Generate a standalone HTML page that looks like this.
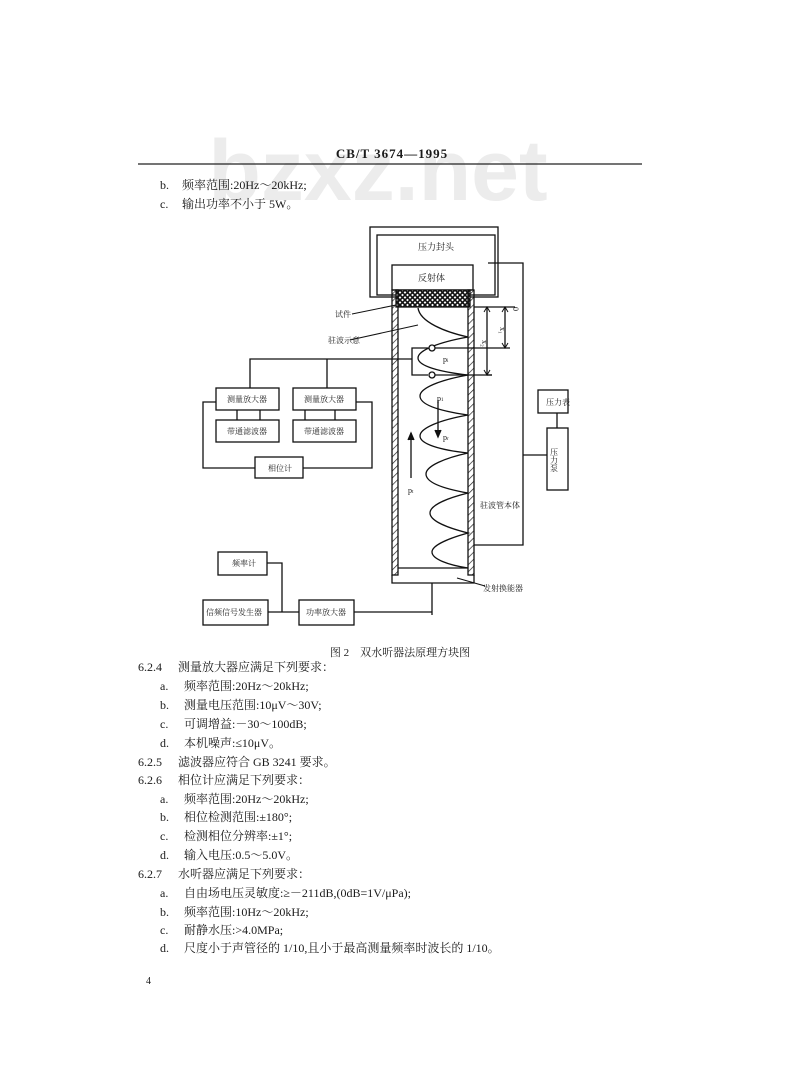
<!DOCTYPE html>
<html><head><meta charset="utf-8"><style>
html,body{margin:0;padding:0;background:#fff;}
svg{display:block}
text{font-family:"Liberation Serif","Noto Serif CJK SC","Noto Sans CJK SC",serif;fill:#1a1a1a;}
.t{font-size:12px}
.s{font-size:8px}
</style></head><body>
<svg width="800" height="1090" viewBox="0 0 800 1090" xmlns="http://www.w3.org/2000/svg">
<defs>
<pattern id="h" width="5" height="5" patternUnits="userSpaceOnUse" patternTransform="rotate(45)">
<line x1="0" y1="0" x2="0" y2="5" stroke="#222" stroke-width="1.4"/></pattern>
<pattern id="x" width="5" height="5" patternUnits="userSpaceOnUse">
<rect width="5" height="5" fill="#fff"/><path d="M0 0L5 5M5 0L0 5" stroke="#111" stroke-width="1.6"/></pattern>
</defs>
<!-- watermark -->
<text x="378" y="200" text-anchor="middle" style="font-family:'Liberation Sans',sans-serif;font-weight:bold;font-size:86px;fill:#ececec">bzxz.net</text>
<text x="392" y="158" text-anchor="middle" style="font-size:13px;font-weight:bold;letter-spacing:1px">CB/T 3674—1995</text>
<line x1="138" y1="164" x2="642" y2="164" stroke="#222" stroke-width="1.3"/>
<text class="t" x="160" y="189">b.</text><text class="t" x="182" y="189">频率范围:20Hz～20kHz;</text>
<text class="t" x="160" y="208">c.</text><text class="t" x="182" y="208">输出功率不小于 5W。</text>

<g fill="none" stroke="#111" stroke-width="1.3">
<rect x="370" y="227" width="128" height="70"/>
<rect x="377" y="235" width="118" height="60"/>
<rect x="392" y="265" width="81" height="25" fill="#fff"/>
<rect x="396" y="290" width="74" height="17" fill="url(#x)"/>
<rect x="392" y="290" width="6" height="285" fill="url(#h)"/>
<rect x="468" y="290" width="6" height="285" fill="url(#h)"/>
<path d="M392 575V583H474V575M398 568H468"/>
<path d="M488 263H523V545H474M523 455H547"/>
<rect x="538" y="390" width="30" height="23"/>
<line x1="557" y1="413" x2="557" y2="428"/>
<rect x="547" y="428" width="21" height="62"/>
<path d="M418 308C420 322,445 332,468 337 C440 342,418 350,418 358 C418 366,440 372,468 375 C440 380,420 388,420 396 C420 405,440 411,468 415 C440 420,420 428,420 436 C420 444,440 450,468 453 C445 458,426 466,426 474 C426 483,445 489,468 493 C448 498,430 505,430 513 C430 521,448 528,468 533 C450 538,432 545,432 552 C432 559,448 565,468 568"/>
<path d="M474 307H515M487 307V375M505 307V348M487 375H492M432 348H510"/>
<path d="M484 312L487 307L490 312M502 312L505 307L508 312M502 343L505 348L508 343M484 370L487 375L490 370" stroke-width="1"/>
<path d="M250 388V359H412V375H428M412 359V348H428M327 359V388"/>
<circle cx="432" cy="348" r="3" fill="#fff"/>
<circle cx="432" cy="375" r="3" fill="#fff"/>
<path d="M435 375H492"/>
<rect x="216" y="388" width="63" height="22"/>
<rect x="216" y="420" width="63" height="22"/>
<rect x="293" y="388" width="63" height="22"/>
<rect x="293" y="420" width="63" height="22"/>
<rect x="255" y="457" width="48" height="21"/>
<path d="M237 410V420M260 410V420M305 410V420M335 410V420"/>
<path d="M216 402H203V468H255M356 402H372V468H303"/>
<path d="M438 400V435M411 433V478"/>
<path d="M435 430L438 437L441 430" fill="#111"/>
<path d="M408 440L411 433L414 440" fill="#111"/>
<path d="M352 314L396 305M350 340L418 325M457 578L485 586" stroke-width="1"/>
<path d="M432 583V615M354 612H432M268 612H299M267 563H282V612"/>
<rect x="299" y="600" width="55" height="25"/>
<rect x="218" y="552" width="49" height="23"/>
<rect x="203" y="600" width="65" height="25"/>
</g>
<g class="s">
<text x="418" y="250" style="font-size:9px">压力封头</text>
<text x="418" y="281" style="font-size:9px">反射体</text>
<text x="335" y="317">试件</text>
<text x="328" y="343">驻波示意</text>
<text x="443" y="362">p<tspan font-size="5">i</tspan></text>
<text x="437" y="401">p<tspan font-size="5">1</tspan></text>
<text x="443" y="440">p<tspan font-size="5">r</tspan></text>
<text x="408" y="493">p<tspan font-size="5">t</tspan></text>
<text x="513" y="307" transform="rotate(90 513 307)">0</text>
<text x="500" y="327" transform="rotate(90 500 327)">x₁</text>
<text x="482" y="340" transform="rotate(90 482 340)">x₂</text>
<text x="227" y="402">测量放大器</text>
<text x="227" y="434">带通滤波器</text>
<text x="304" y="402">测量放大器</text>
<text x="304" y="434">带通滤波器</text>
<text x="268" y="471">相位计</text>
<text x="546" y="405">压力表</text>
<text x="554" y="448" style="writing-mode:tb">压力泵</text>
<text x="480" y="508">驻波管本体</text>
<text x="483" y="591">发射换能器</text>
<text x="232" y="566">频率计</text>
<text x="206" y="615">信频信号发生器</text>
<text x="306" y="615">功率放大器</text>
</g>
<text x="400" y="656" text-anchor="middle" style="font-size:11px">图 2　双水听器法原理方块图</text>

<g class="t">
<text x="138" y="671">6.2.4</text><text x="178" y="671">测量放大器应满足下列要求：</text>
<text x="160" y="690">a.</text><text x="184" y="690">频率范围:20Hz～20kHz;</text>
<text x="160" y="709">b.</text><text x="184" y="709">测量电压范围:10μV～30V;</text>
<text x="160" y="728">c.</text><text x="184" y="728">可调增益:－30～100dB;</text>
<text x="160" y="747">d.</text><text x="184" y="747">本机噪声:≤10μV。</text>
<text x="138" y="766">6.2.5</text><text x="178" y="766">滤波器应符合 GB 3241 要求。</text>
<text x="138" y="784">6.2.6</text><text x="178" y="784">相位计应满足下列要求：</text>
<text x="160" y="803">a.</text><text x="184" y="803">频率范围:20Hz～20kHz;</text>
<text x="160" y="821">b.</text><text x="184" y="821">相位检测范围:±180°;</text>
<text x="160" y="840">c.</text><text x="184" y="840">检测相位分辨率:±1°;</text>
<text x="160" y="859">d.</text><text x="184" y="859">输入电压:0.5～5.0V。</text>
<text x="138" y="878">6.2.7</text><text x="178" y="878">水听器应满足下列要求：</text>
<text x="160" y="897">a.</text><text x="184" y="897">自由场电压灵敏度:≥－211dB,(0dB=1V/μPa);</text>
<text x="160" y="916">b.</text><text x="184" y="916">频率范围:10Hz～20kHz;</text>
<text x="160" y="934">c.</text><text x="184" y="934">耐静水压:&gt;4.0MPa;</text>
<text x="160" y="952">d.</text><text x="184" y="952">尺度小于声管径的 1/10,且小于最高测量频率时波长的 1/10。</text>
</g>
<text x="146" y="984" style="font-size:10px">4</text>
</svg>
</body></html>
